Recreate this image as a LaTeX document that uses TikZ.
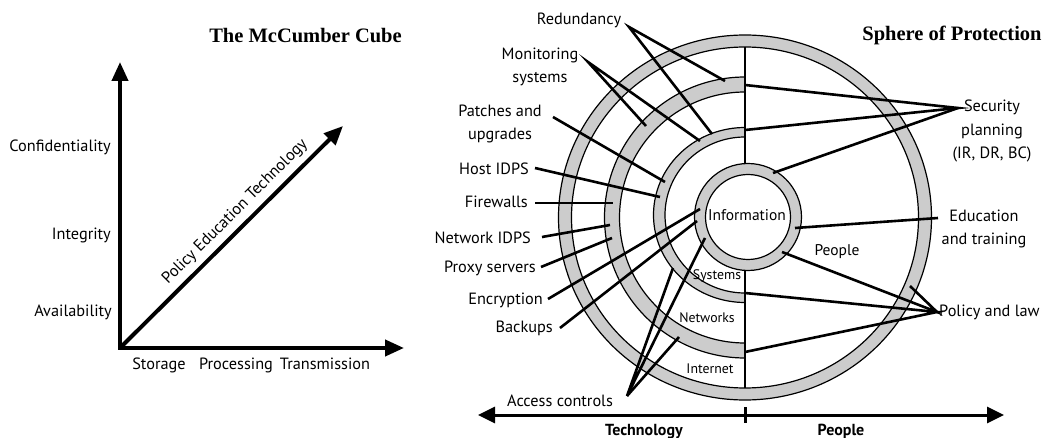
\documentclass[tikz,border=0pt]{standalone}
\usepackage{fontspec}
\setmainfont{PT Sans}
\newfontfamily\titlefont{Liberation Serif}
\usetikzlibrary{arrows.meta}
\definecolor{ringgray}{HTML}{CCCCCC}
\begin{document}
\begin{tikzpicture}[x=1pt,y=-1pt,
  lbl/.style={inner sep=0pt, font=\fontsize{16.3}{23.5}\selectfont},
  slbl/.style={lbl, text height=12pt, text depth=3.5pt},
  ringlbl/.style={inner sep=0pt, font=\fontsize{13.8}{15}\selectfont},
  biglbl/.style={inner sep=0pt, font=\fontsize{15.5}{17}\selectfont},
  botlbl/.style={inner sep=0pt, font=\bfseries\fontsize{16}{18}\selectfont},
  titlelbl/.style={inner sep=0pt, font=\titlefont\bfseries\fontsize{20.5}{22}\selectfont},
  conn/.style={line width=2.6pt},
  ringline/.style={draw=black, line width=1.2pt},
  axisboth/.style={line width=4pt, {Triangle[length=19pt,width=16pt]}-{Triangle[length=19pt,width=16pt]}},
  axisone/.style={line width=4pt, -{Triangle[length=19pt,width=16pt]}},
  botarrow/.style={line width=3pt, {Triangle[length=17pt,width=16pt]}-{Triangle[length=17pt,width=16pt]}}
]
\useasboundingbox (0,0) rectangle (1049,438);

% ---------------- McCumber cube ----------------
\node[titlelbl] (t1) at (305.5,36) {The McCumber Cube};
\coordinate (o) at (120,348);
\coordinate (ytip) at (120,62);
\coordinate (xtip) at (404,348);
\coordinate (dtip) at (343,126);
\draw[axisboth] (ytip) -- (o) -- (xtip);
\draw[axisone] (o) -- (dtip);
\node[slbl, anchor=east] (conf) at (111,147) {Confidentiality};
\node[slbl, anchor=east] (integ) at (111,235) {Integrity};
\node[slbl, anchor=east] (avail) at (112,312) {Availability};
\node[slbl] (stor) at (159,365) {Storage};
\node[slbl] (proc) at (236,365) {Processing};
\node[slbl] (trans) at (325,365) {Transmission};
\node[slbl, rotate=45] (pet) at (235,212) {Policy Education Technology};

% ---------------- Sphere of protection ----------------
\node[titlelbl] (t2) at (952,35) {Sphere of Protection};

% outer full ring
\fill[ringgray, even odd rule] (745,217.5) ellipse[x radius=186.5pt, y radius=182.5pt]
  (745,217.5) ellipse[x radius=173.5pt, y radius=170.5pt];
\draw[ringline] (745,217.5) ellipse[x radius=186.5pt, y radius=182.5pt];
\draw[ringline] (745,217.5) ellipse[x radius=173.5pt, y radius=170.5pt];

% middle half ring (networks)
\filldraw[fill=ringgray, ringline]
  plot[domain=90:270, samples=91] ({745+140.5*cos(\x)},{217.5+140.5*sin(\x)})
  -- plot[domain=270:90, samples=91] ({745+125.5*cos(\x)},{217.5+125.5*sin(\x)}) -- cycle;

% inner half ring (systems)
\filldraw[fill=ringgray, ringline]
  plot[domain=90:270, samples=91] ({745+91.5*cos(\x)},{215+87.5*sin(\x)})
  -- plot[domain=270:90, samples=91] ({745+80*cos(\x)},{215+78*sin(\x)}) -- cycle;

% information ring
\fill[ringgray, even odd rule] (748,217) circle[radius=53.5pt] (748,217) circle[radius=42.5pt];
\draw[ringline] (748,217) circle[radius=53.5pt];
\draw[ringline] (748,217) circle[radius=42.5pt];

% vertical divider
\coordinate (vt1) at (745,47);
\coordinate (vt2) at (745,163.6);
\coordinate (vb1) at (745,270.4);
\coordinate (vb2) at (745,388);
\draw[line width=1.4pt] (vt1) -- (vt2);
\draw[line width=1.4pt] (vb1) -- (vb2);

% ring labels
\node[biglbl] (info) at (747,215) {Information};
\node[ringlbl] (sys) at (717,276) {Systems};
\node[ringlbl] (net) at (707,318) {Networks};
\node[ringlbl] (inet) at (710,369) {Internet};
\node[biglbl] (ppl) at (837,252) {People};

% bottom axis
\coordinate (bl) at (478,415);
\coordinate (br) at (1004,415);
\coordinate (tk1) at (745,407);
\coordinate (tk2) at (745,423);
\draw[botarrow] (bl) -- (br);
\draw[line width=3pt] (tk1) -- (tk2);
\node[botlbl, anchor=base] (tech) at (644,435.5) {Technology};
\node[botlbl, anchor=base] (bppl) at (841,435.5) {People};

% left labels
\node[slbl] (red) at (579,20) {Redundancy};
\node[lbl, align=center] (mon) at (540,67) {Monitoring\\systems};
\node[lbl, align=center] (pat) at (500,124) {Patches and\\upgrades};
\node[slbl, anchor=east] (host) at (529,170) {Host IDPS};
\node[slbl, anchor=east] (fire) at (528,203) {Firewalls};
\node[slbl, anchor=east] (nids) at (531,239) {Network IDPS};
\node[slbl, anchor=east] (prox) at (536,268) {Proxy servers};
\node[slbl, anchor=east] (enc) at (543,300) {Encryption};
\node[slbl, anchor=east] (back) at (553,328) {Backups};
\node[slbl] (acc) at (560,402) {Access controls};

% right labels
\node[lbl, align=center] (sec) at (992,131) {Security\\planning\\(IR, DR, BC)};
\node[lbl, align=center] (edu) at (984,229) {Education\\and training};
\node[slbl, anchor=west] (pol) at (939,312) {Policy and law};

% connector start points
\coordinate (redC) at (629,27);
\coordinate (monC) at (588,62);
\coordinate (patC) at (553,117);
\coordinate (hostC) at (535,168);
\coordinate (fireC) at (535,203);
\coordinate (nidsC) at (542,237);
\coordinate (proxC) at (541,267);
\coordinate (encC) at (548,299);
\coordinate (backC) at (560,328);
\coordinate (accC) at (627,396);
\coordinate (secC) at (958,108);
\coordinate (eduC) at (938,218);
\coordinate (polC) at (937,312);

% connector end points
\coordinate (red1) at (725,81);
\coordinate (red2) at (712,134);
\coordinate (mon1) at (646,126);
\coordinate (mon2) at (700,141);
\coordinate (pat1) at (665,182);
\coordinate (host1) at (660,197);
\coordinate (fire1) at (613,203);
\coordinate (nids1) at (610,225);
\coordinate (prox1) at (612,238);
\coordinate (enc1) at (700,209);
\coordinate (back1) at (697,221);
\coordinate (acc1) at (673,268);
\coordinate (acc2) at (705,238);
\coordinate (acc3) at (679,337);
\coordinate (sec1) at (745,85);
\coordinate (sec2) at (745,130);
\coordinate (sec3) at (773,173);
\coordinate (edu1) at (795,228);
\coordinate (pol1) at (782,252);
\coordinate (pol2) at (910,286);
\coordinate (pol3) at (745,293);
\coordinate (pol4) at (745,352);

\draw[conn] (red1) -- (redC) -- (red2);
\draw[conn] (mon1) -- (monC) -- (mon2);
\draw[conn] (patC) -- (pat1);
\draw[conn] (hostC) -- (host1);
\draw[conn] (fireC) -- (fire1);
\draw[conn] (nidsC) -- (nids1);
\draw[conn] (proxC) -- (prox1);
\draw[conn] (encC) -- (enc1);
\draw[conn] (backC) -- (back1);
\draw[conn] (acc1) -- (accC) -- (acc2);
\draw[conn] (accC) -- (acc3);
\draw[conn] (sec1) -- (secC) -- (sec2);
\draw[conn] (secC) -- (sec3);
\draw[conn] (eduC) -- (edu1);
\draw[conn] (pol1) -- (polC) -- (pol2);
\draw[conn] (pol3) -- (polC) -- (pol4);
\end{tikzpicture}
\end{document}
